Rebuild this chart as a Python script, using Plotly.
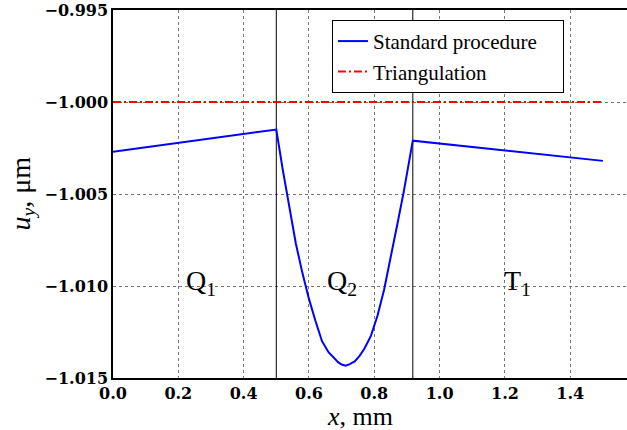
import plotly.graph_objects as go

# ---- data ----
std_x = [0.0, 0.5, 0.52, 0.54, 0.56, 0.58, 0.60, 0.62, 0.64, 0.66, 0.68, 0.69, 0.70, 0.713,
         0.725, 0.74, 0.755, 0.77, 0.79, 0.81, 0.83, 0.85, 0.87, 0.89, 0.918, 1.5]
std_y = [-1.0027, -1.0015, -1.0037, -1.0058, -1.0077, -1.0093, -1.0107, -1.0119, -1.0130,
         -1.0136, -1.0140, -1.01415, -1.01427, -1.01433, -1.01425, -1.0141, -1.0138,
         -1.0134, -1.0127, -1.0116, -1.0102, -1.0085, -1.0067, -1.0049, -1.0021, -1.0032]
tri_x = [0.0, 1.5]
tri_y = [-1.0, -1.0]
boundaries = [0.5, 0.918]
series_names = ["Standard procedure", "Triangulation"]
region_labels = ["Q<sub>1</sub>", "Q<sub>2</sub>", "T<sub>1</sub>"]
region_x = [0.27, 0.70, 1.24]
region_y = [-1.0098, -1.0098, -1.0098]
x_ticks = [0.0, 0.2, 0.4, 0.6, 0.8, 1.0, 1.2, 1.4]
y_ticks = [-1.015, -1.010, -1.005, -1.000, -0.995]

SERIF = "Times New Roman"
TICKFONT = dict(family="DejaVu Serif", size=16, color="black", weight="bold")
PAD = "\u00a0" * 4

fig = go.Figure()

for b in boundaries:
    fig.add_trace(go.Scatter(x=[b, b], y=[y_ticks[0], y_ticks[-1]], mode="lines",
                             line=dict(color="black", width=1), showlegend=False,
                             hoverinfo="skip"))

fig.add_trace(go.Scatter(x=std_x, y=std_y, mode="lines", name=series_names[0] + PAD,
                         line=dict(color="#0000ff", width=2)))
fig.add_trace(go.Scatter(x=tri_x, y=tri_y, mode="lines", name=series_names[1],
                         line=dict(color="#ff0000", width=2, dash="8px,3px,2px,3px")))

for t, xx, yy in zip(region_labels, region_x, region_y):
    fig.add_annotation(x=xx, y=yy, text=t, showarrow=False, xanchor="center",
                       yanchor="middle", font=dict(family=SERIF, size=28, color="black"))

# axis titles
fig.add_annotation(x=0.48, y=-0.06, xref="paper", yref="paper", text="<i>x</i>, mm",
                   showarrow=False, xanchor="center", yanchor="top",
                   font=dict(family=SERIF, size=26, color="black"))
fig.add_annotation(x=-0.178, y=0.5, xref="paper", yref="paper",
                   text="<i>u<sub>y</sub></i>, μm", textangle=-90,
                   showarrow=False, xanchor="center", yanchor="middle",
                   font=dict(family=SERIF, size=28, color="black"))

fig.update_layout(
    width=627, height=430,
    margin=dict(l=113, r=0, t=10, b=52),
    paper_bgcolor="white", plot_bgcolor="white",
    showlegend=True,
    legend=dict(x=0.426, y=0.973, xanchor="left", yanchor="top",
                bgcolor="white", bordercolor="black", borderwidth=1,
                font=dict(family=SERIF, size=21, color="black"),
                tracegroupgap=0, itemwidth=30),
    xaxis=dict(range=[0, 1.5738], tickvals=x_ticks, tickformat=".1f",
               showgrid=True, gridcolor="#777", griddash="dot", gridwidth=1,
               showline=True, linecolor="black", linewidth=1.5, mirror=True,
               ticks="", zeroline=False, tickfont=TICKFONT, automargin=False),
    yaxis=dict(range=[y_ticks[0], y_ticks[-1]], tickvals=y_ticks, tickformat=".3f",
               showgrid=True, gridcolor="#777", griddash="dot", gridwidth=1,
               showline=True, linecolor="black", linewidth=1.5, mirror=False,
               ticks="", zeroline=False, tickfont=TICKFONT, automargin=False),
)

fig.write_html("out.html", config={"displayModeBar": False},
               post_script="document.body.style.margin='0';")
